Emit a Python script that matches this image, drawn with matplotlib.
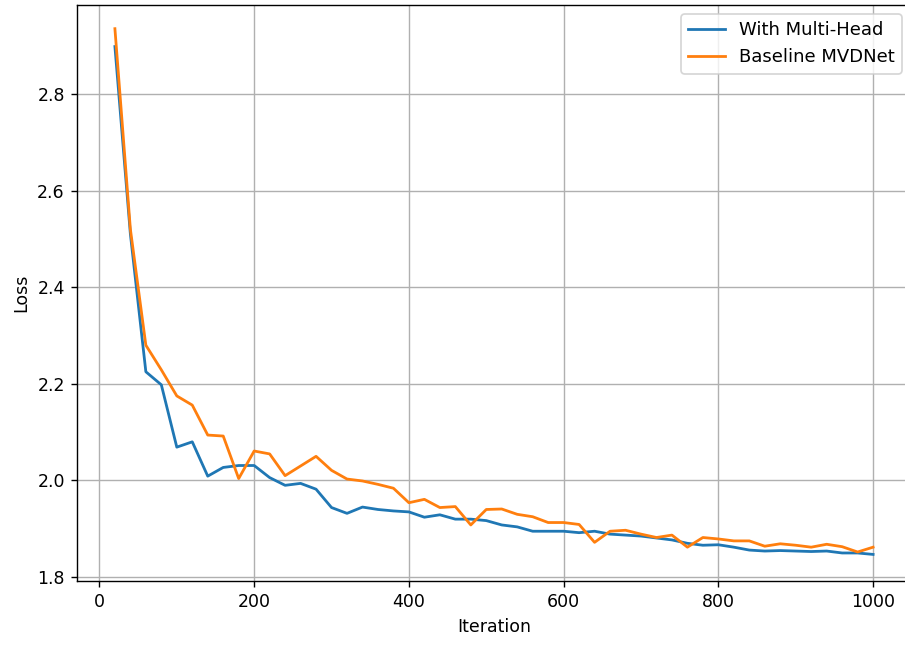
import numpy as np
import matplotlib
matplotlib.use('Agg')
import matplotlib.pyplot as plt

# iteration 20..1000 step 20
iterations = list(range(20, 1001, 20))

loss_multi_head = [
    2.898, 2.510, 2.225, 2.198, 2.069, 2.080, 2.009, 2.027, 2.031, 2.031,
    2.006, 1.990, 1.994, 1.982, 1.944, 1.932, 1.945, 1.940, 1.937, 1.935,
    1.924, 1.929, 1.920, 1.920, 1.917, 1.908, 1.904, 1.895, 1.895, 1.895,
    1.892, 1.895, 1.889, 1.887, 1.885, 1.881, 1.877, 1.870, 1.866, 1.867,
    1.862, 1.856, 1.854, 1.855, 1.854, 1.853, 1.854, 1.850, 1.850, 1.847,
]

loss_baseline = [
    2.935, 2.520, 2.280, 2.229, 2.175, 2.156, 2.094, 2.092, 2.004, 2.061,
    2.055, 2.010, 2.030, 2.050, 2.021, 2.003, 1.999, 1.992, 1.984, 1.954,
    1.961, 1.944, 1.946, 1.908, 1.940, 1.941, 1.930, 1.925, 1.913, 1.913,
    1.909, 1.872, 1.895, 1.897, 1.889, 1.882, 1.887, 1.862, 1.882, 1.879,
    1.875, 1.875, 1.864, 1.869, 1.866, 1.862, 1.868, 1.863, 1.852, 1.862,
]

fig = plt.figure(figsize=(7.24, 5.176), dpi=125)
# the reference is a crop: right spine and title fall outside the image
ax = fig.add_axes([77 / 905, 66 / 647, 834 / 905, 576 / 647])

ax.plot(iterations, loss_multi_head, label='With Multi-Head', linewidth=1.6)
ax.plot(iterations, loss_baseline, label='Baseline MVDNet', linewidth=1.6)

ax.set_xlabel('Iteration')
ax.set_ylabel('Loss')
ax.set_xticks([0, 200, 400, 600, 800, 1000])
ax.set_ylim(1.792, 2.984)
ax.grid(True)
ax.legend(loc='upper right', fontsize=10.4)

fig.savefig('out.png', dpi=125)
